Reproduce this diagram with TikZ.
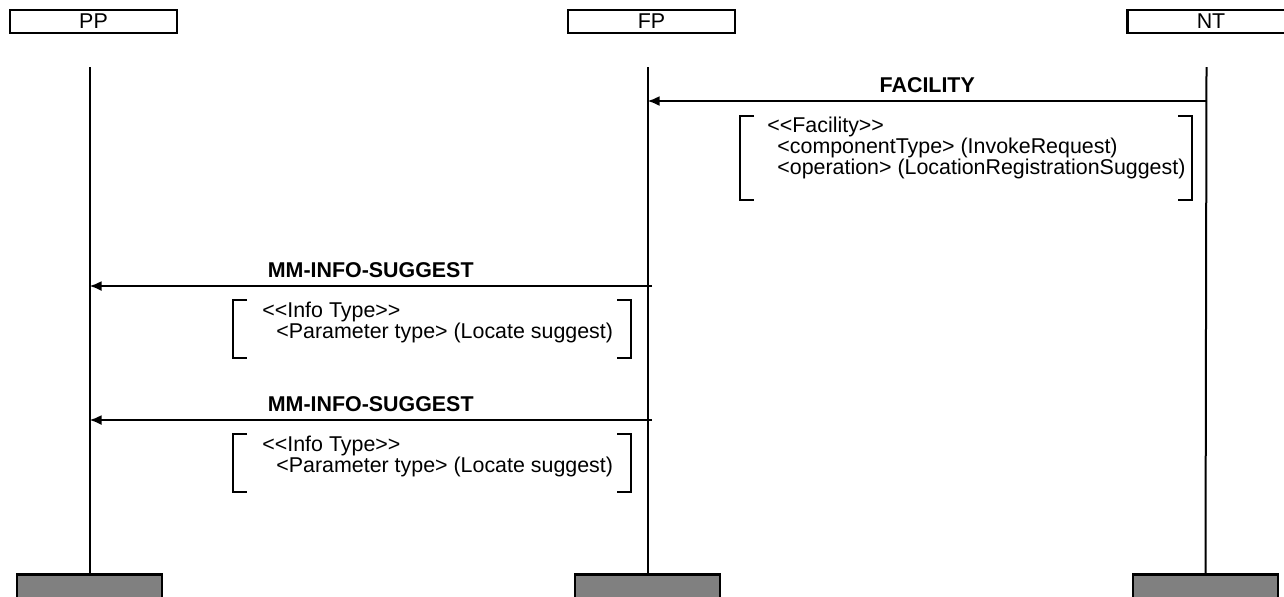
\documentclass[tikz,border=0pt]{standalone}
\usepackage{fontspec}
\setmainfont{Liberation Sans}
\usetikzlibrary{arrows.meta,positioning}

\begin{document}
\begin{tikzpicture}[x=0.5pt,y=-0.5pt,
    font=\fontsize{10.7}{10.5}\selectfont,
    ent/.style={draw,line width=1.4pt,minimum width=83.5pt,minimum height=11.5pt,inner sep=0pt},
    endbox/.style={draw,line width=1.4pt,fill=gray,minimum width=72.5pt,minimum height=16pt,inner sep=0pt},
    life/.style={line width=1pt},
    msg/.style={line width=1.1pt,-{Latex[length=6pt,width=5pt]}},
    lbl/.style={font=\fontsize{10.7}{10.5}\selectfont\bfseries,inner sep=0pt,above=3.75pt},
    info/.style={align=left,anchor=north west,inner sep=0pt},
    brk/.style={line width=1.1pt}]
    \clip (0,0) rectangle (1284,596);

    % entities
    \node[ent] (pp) at (93.5,21.5) {PP};
    \node[ent] (fp) at (651.5,21.5) {FP};
    \node[ent] (nt) at (1211,21.5) {NT};

    \node[endbox, anchor=north] (ppEnd) at (89.5,573) {};
    \node[endbox, anchor=north] (fpEnd) at (647.5,573) {};
    \node[endbox, anchor=north] (ntEnd) at (1205.5,573) {};

    % lifelines
    \coordinate (ppTop) at (89.5,67);
    \coordinate (fpTop) at (647.5,67);
    \coordinate (ntTop) at (1206.5,67);
    \draw[life] (ppTop) -- (ppEnd.north);
    \draw[life] (fpTop) -- (fpEnd.north);
    \draw[life] (ntTop) -- (ntEnd.north);

    % FACILITY
    \coordinate (ntA) at (1207,101);
    \coordinate (fpA) at (647.5,101);
    \draw[msg] (ntA) -- (fpA) node[midway,lbl] (facLbl) {FACILITY};
    \draw[brk] (754,116) -- (740,116) -- (740,200) -- (754,200);
    \draw[brk] (1178,116) -- (1192,116) -- (1192,200) -- (1178,200);
    \node[info] (facTxt) at (767,117) {{<}{<}Facility{>}{>}\\
      \hspace{5pt}{<}componentType{>} (InvokeRequest)\\
      \hspace{5pt}{<}operation{>} (LocationRegistrationSuggest)};

    % MM-INFO-SUGGEST (1)
    \coordinate (fpB) at (652,286);
    \coordinate (ppB) at (89.5,286);
    \draw[msg] (fpB) -- (ppB) node[midway,lbl] (sugLblA) {MM-INFO-SUGGEST};
    \draw[brk] (247,300) -- (233,300) -- (233,358) -- (247,358);
    \draw[brk] (617,300) -- (631,300) -- (631,358) -- (617,358);
    \node[info] (sugTxtA) at (262,302) {{<}{<}Info Type{>}{>}\\
      \hspace{7pt}{<}Parameter type{>} (Locate suggest)};

    % MM-INFO-SUGGEST (2)
    \coordinate (fpC) at (652,420);
    \coordinate (ppC) at (89.5,420);
    \draw[msg] (fpC) -- (ppC) node[midway,lbl] (sugLblB) {MM-INFO-SUGGEST};
    \draw[brk] (247,434) -- (233,434) -- (233,492) -- (247,492);
    \draw[brk] (617,434) -- (631,434) -- (631,492) -- (617,492);
    \node[info] (sugTxtB) at (262,436) {{<}{<}Info Type{>}{>}\\
      \hspace{7pt}{<}Parameter type{>} (Locate suggest)};
\end{tikzpicture}
\end{document}
